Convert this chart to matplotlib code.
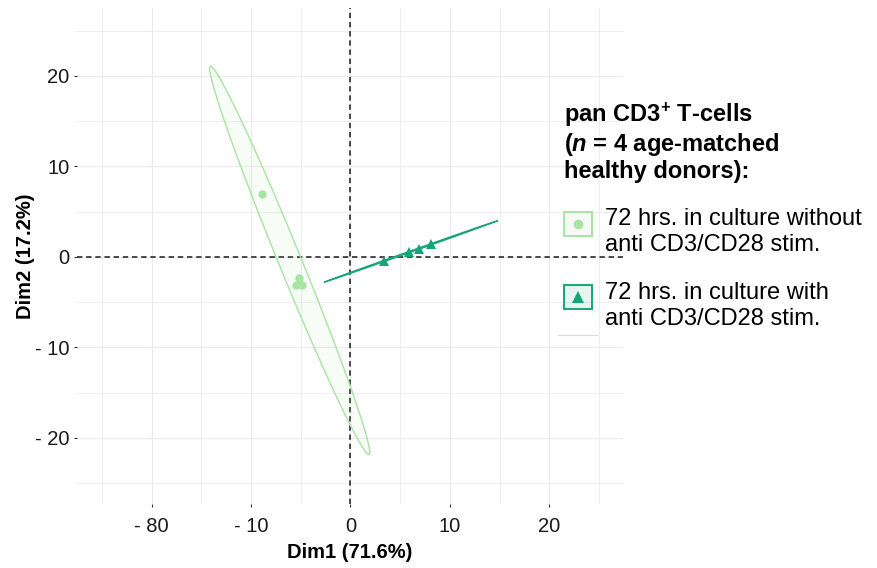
import numpy as np
import matplotlib.pyplot as plt
from matplotlib.colors import to_rgba
from matplotlib.lines import Line2D
from matplotlib.patches import Rectangle
from matplotlib.legend_handler import HandlerBase

plt.rcParams['font.family'] = ['Liberation Sans', 'DejaVu Sans']
plt.rcParams['mathtext.fontset'] = 'custom'
plt.rcParams['mathtext.rm'] = 'Liberation Sans'
plt.rcParams['mathtext.it'] = 'Liberation Sans:italic'
plt.rcParams['mathtext.bf'] = 'Liberation Sans:bold'
plt.rcParams['mathtext.bfit'] = 'Liberation Sans:italic:bold'

# PCA scores (Dim1, Dim2) per donor
unstim_x = [-8.85, -5.2, -5.5, -4.9]
unstim_y = [6.96, -2.3, -3.1, -3.1]
stim_x = [3.4, 5.9, 6.85, 8.1]
stim_y = [-0.44, 0.55, 0.88, 1.4]

group_labels = [
    '72 hrs. in culture without\nanti CD3/CD28 stim.',
    '72 hrs. in culture with\nanti CD3/CD28 stim.',
]
xticks = [-20, -10, 0, 10, 20]
xticklabels = ['- 80', '- 10', '0', '10', '20']
yticks = [-20, -10, 0, 10, 20]
yticklabels = ['- 20', '- 10', '0', '10', '20']

light = '#a8e4a2'
dark = '#16a57a'

# qf(0.95, 2, 3): 95% level ellipse for n = 4
F95_2_3 = 9.552094


def conf_ellipse(x, y, fq=F95_2_3, segments=101):
    pts = np.column_stack([x, y])
    center = pts.mean(axis=0)
    cov = np.cov(pts, rowvar=False)
    radius = np.sqrt(2 * fq)
    t = np.linspace(0, 2 * np.pi, segments)
    circle = np.column_stack([np.cos(t), np.sin(t)])
    chol = np.linalg.cholesky(cov).T
    ell = center + radius * circle @ chol
    return ell[:, 0], ell[:, 1]


class BoxKeyHandler(HandlerBase):
    # filled square key with the group's marker in the middle
    def __init__(self, dy=0, **kw):
        super().__init__(**kw)
        self.dy = dy

    def create_artists(self, legend, orig_handle, xdescent, ydescent,
                       width, height, fontsize, trans):
        rect_h, mark_h = orig_handle
        x0, y0 = -xdescent, -ydescent + self.dy
        box = Rectangle((x0, y0), width, height,
                        facecolor=rect_h.get_facecolor(),
                        edgecolor=rect_h.get_edgecolor(),
                        linewidth=rect_h.get_linewidth(), transform=trans)
        mk = Line2D([x0 + width / 2], [y0 + height / 2], linestyle='',
                    marker=mark_h.get_marker(), color=mark_h.get_color(),
                    markersize=mark_h.get_markersize(), markeredgewidth=0,
                    transform=trans)
        return [box, mk]


fig = plt.figure(figsize=(8.78, 5.68), dpi=100)
ax = fig.add_axes([77 / 878, 1 - 504 / 568, 546 / 878, 496 / 568])

for s in ax.spines.values():
    s.set_visible(False)

ax.set_xlim(-27.5, 27.4)
ax.set_ylim(-27.3, 27.5)
ax.set_xticks(xticks)
ax.set_xticklabels(xticklabels)
ax.set_yticks(yticks)
ax.set_yticklabels(yticklabels)
ax.set_xticks([-25, -15, -5, 5, 15, 25], minor=True)
ax.set_yticks([-25, -15, -5, 5, 15, 25], minor=True)
ax.grid(True, which='major', color='#ebebeb', linewidth=0.9)
ax.grid(True, which='minor', color='#ebebeb', linewidth=0.6)
ax.set_axisbelow(True)
ax.tick_params(which='major', length=2.5, width=0.8, color='#333333',
               labelsize=14.5, labelcolor='#1a1a1a', pad=3)
ax.tick_params(axis='x', which='major', pad=6.5)
ax.tick_params(which='minor', length=0)

ax.axvline(0, color='#1a1a1a', linestyle=(0, (3.5, 2.5)), linewidth=1.1, zorder=1)
ax.axhline(0, color='#1a1a1a', linestyle=(0, (3.5, 2.5)), linewidth=1.1, zorder=1)

ex, ey = conf_ellipse(unstim_x, unstim_y)
ax.fill(ex, ey, color=to_rgba(light, 0.08), zorder=2)
ax.plot(ex, ey, color=light, linewidth=1.0, zorder=3)
ex, ey = conf_ellipse(stim_x, stim_y)
ax.fill(ex, ey, color=to_rgba(dark, 0.08), zorder=2)
ax.plot(ex, ey, color=dark, linewidth=0.9, zorder=3)

ax.plot(unstim_x, unstim_y, 'o', color=light, markersize=6, markeredgewidth=0, zorder=4)
ax.plot(stim_x, stim_y, '^', color=dark, markersize=7, markeredgewidth=0, zorder=4)

ax.set_xlabel('Dim1 (71.6%)', fontsize=14.5, fontweight='bold', labelpad=5.5)
ax.set_ylabel('Dim2 (17.2%)', fontsize=14.5, fontweight='bold')
ax.yaxis.set_label_coords(-0.077, 0.5)

handles = [
    (Rectangle((0, 0), 1, 1, facecolor=to_rgba(light, 0.1), edgecolor=light, linewidth=1.4),
     Line2D([], [], linestyle='', marker='o', color=light, markersize=7)),
    (Rectangle((0, 0), 1, 1, facecolor=to_rgba(dark, 0.1), edgecolor=dark, linewidth=1.4),
     Line2D([], [], linestyle='', marker='^', color=dark, markersize=8)),
]
leg = ax.legend(
    handles, group_labels,
    handler_map={tuple: BoxKeyHandler(dy=6.5)},
    title='pan CD3$^{\\mathbf{+}}$ T-cells\n($\\mathbfit{n}$ = 4 age-matched\nhealthy donors):',
    title_fontproperties={'weight': 'bold', 'size': 17},
    alignment='left',
    loc='upper left',
    bbox_to_anchor=(564 / 878, 1 - 101 / 568),
    bbox_transform=fig.transFigure,
    frameon=False,
    fontsize=17,
    borderpad=0,
    borderaxespad=0,
    handlelength=1.19,
    handleheight=1.19,
    handletextpad=0.55,
    labelspacing=1.07,
)
leg.get_title().set_linespacing(1.1)
for t in leg.get_texts():
    t.set_linespacing(1.24)

fig.add_artist(Line2D([558 / 878, 597 / 878], [1 - 335 / 568] * 2,
                      color='#d9d9d9', linewidth=0.8))

fig.savefig('out.png', dpi=100)
